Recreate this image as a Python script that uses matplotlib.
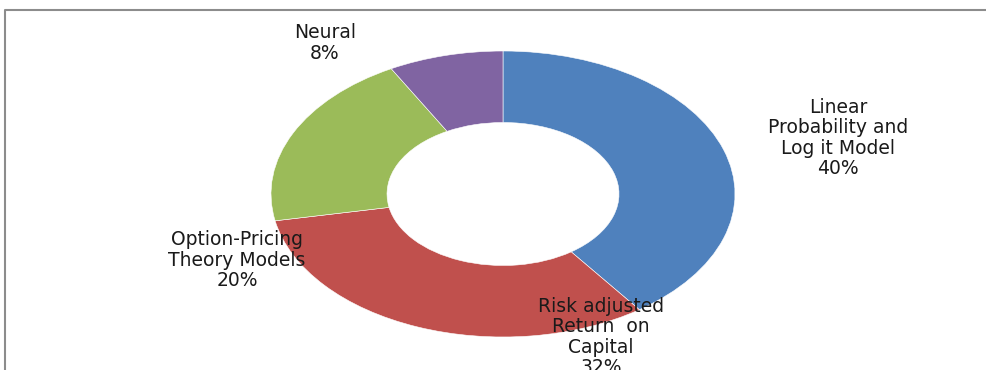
import matplotlib.pyplot as plt
from matplotlib.lines import Line2D

labels = ["Linear\nProbability and\nLog it Model", "Risk adjusted\nReturn  on\nCapital",
          "Option-Pricing\nTheory Models", "Neural"]
values = [40, 32, 20, 8]
colors = ["#4F81BD", "#C0504D", "#9BBB59", "#8064A2"]
# label centres in pixels (x from left, y from top)
label_px = [(838, 138), (601, 337), (237, 260), (325, 43)]

W, H = 986, 370
cx, cy = 503, 194
rx, ry = 232, 143

plt.rcParams["font.family"] = ["DejaVu Sans"]
fig = plt.figure(figsize=(W / 100, H / 100), dpi=100)
ax = fig.add_axes([0, 0, 1, 1])
ax.pie(values, colors=colors, startangle=90, counterclock=False,
       wedgeprops=dict(width=0.5, edgecolor="white", linewidth=0.4))
ax.set_aspect("auto")
ax.set_xlim(-cx / rx, (W - cx) / rx)
ax.set_ylim((cy - H) / ry, cy / ry)
ax.axis("off")

for lab, v, (px, py) in zip(labels, values, label_px):
    fig.text(px / W, 1 - py / H, lab + "\n" + str(v) + "%", ha="center", va="center",
             fontsize=13.5, color="#1a1a1a", linespacing=1.1)

# chart frame (top and left edges visible)
fig.add_artist(Line2D([5 / W, 5 / W, 1], [0, 1 - 10 / H, 1 - 10 / H],
                      transform=fig.transFigure, color="#8c8c8c", lw=1.5))

fig.savefig("out.png", dpi=100)
